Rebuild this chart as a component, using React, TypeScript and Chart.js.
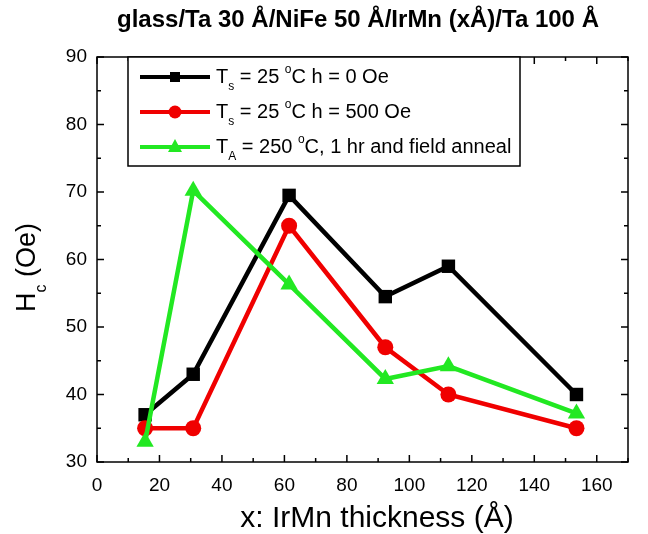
import React, { useEffect, useRef } from 'react';
import { Chart, registerables } from 'chart.js';

Chart.register(...registerables);

// ---- data (x positions) ----
const thickness = [15.4, 30.8, 61.5, 92.3, 112.5, 153.5];
const hcDeposited0Oe = [37, 43, 69.5, 54.5, 59, 40];
const hcDeposited500Oe = [35, 35, 65, 47, 40, 35];
const hcAnnealed = [33, 70.2, 56.3, 42.3, 44.2, 37.2];

const xMin = 0;
const xMax = 170;
const xStep = 20;
const yMin = 30;
const yMax = 90;
const yStep = 10;

const chartTitle = 'glass/Ta 30 Å/NiFe 50 Å/IrMn (xÅ)/Ta 100 Å';
const xAxisTitle = 'x: IrMn thickness (Å)';

type Seg = { t: string; sub?: boolean; sup?: boolean };
const legendTexts: Seg[][] = [
  [{ t: 'T' }, { t: 's', sub: true }, { t: ' = 25 ' }, { t: 'o', sup: true }, { t: 'C h = 0 Oe' }],
  [{ t: 'T' }, { t: 's', sub: true }, { t: ' = 25 ' }, { t: 'o', sup: true }, { t: 'C h = 500 Oe' }],
  [{ t: 'T' }, { t: 'A', sub: true }, { t: ' = 250 ' }, { t: 'o', sup: true }, { t: 'C, 1 hr and field anneal' }],
];
const yAxisTitle: Seg[] = [{ t: 'H' }, { t: 'c', sub: true }, { t: ' (Oe)' }];

const seriesColors = ['#000000', '#f00000', '#22e822'];
const seriesMarkers = ['rect', 'circle', 'triangle'];

const FONT = '"Liberation Sans", Arial, Helvetica, sans-serif';

function drawRich(ctx: CanvasRenderingContext2D, segs: Seg[], x: number, y: number, size: number) {
  let cx = x;
  for (const s of segs) {
    const fs = s.sub || s.sup ? Math.round(size * 0.6) : size;
    ctx.font = `${fs}px ${FONT}`;
    const dy = s.sub ? size * 0.5 : s.sup ? -size * 0.38 : 0;
    ctx.fillText(s.t, cx, y + dy);
    cx += ctx.measureText(s.t).width;
  }
  return cx - x;
}

function richWidth(ctx: CanvasRenderingContext2D, segs: Seg[], size: number) {
  let w = 0;
  for (const s of segs) {
    const fs = s.sub || s.sup ? Math.round(size * 0.6) : size;
    ctx.font = `${fs}px ${FONT}`;
    w += ctx.measureText(s.t).width;
  }
  return w;
}

function drawMarker(ctx: CanvasRenderingContext2D, kind: string, cx: number, cy: number) {
  ctx.beginPath();
  if (kind === 'rect') {
    ctx.rect(cx - 5, cy - 5, 10, 10);
  } else if (kind === 'circle') {
    ctx.arc(cx, cy, 6.5, 0, Math.PI * 2);
  } else {
    ctx.moveTo(cx, cy - 8);
    ctx.lineTo(cx + 7, cy + 5);
    ctx.lineTo(cx - 7, cy + 5);
    ctx.closePath();
  }
  ctx.fill();
}

const decorPlugin = {
  id: 'decor',
  afterDraw(chart: any) {
    const { ctx, chartArea: a, scales } = chart;
    const xs = scales.x;
    const ys = scales.y;
    ctx.save();
    ctx.strokeStyle = '#000';
    ctx.fillStyle = '#000';
    ctx.lineWidth = 1.5;
    // frame
    ctx.strokeRect(a.left, a.top, a.right - a.left, a.bottom - a.top);
    // inward ticks
    ctx.beginPath();
    for (let v = xMin; v <= xMax; v += xStep / 2) {
      const p = xs.getPixelForValue(v);
      const len = v % xStep === 0 ? 7 : 4;
      ctx.moveTo(p, a.bottom);
      ctx.lineTo(p, a.bottom - len);
      ctx.moveTo(p, a.top);
      ctx.lineTo(p, a.top + len);
    }
    for (let v = yMin; v <= yMax; v += yStep / 2) {
      const p = ys.getPixelForValue(v);
      const len = v % yStep === 0 ? 7 : 4;
      ctx.moveTo(a.left, p);
      ctx.lineTo(a.left + len, p);
      ctx.moveTo(a.right, p);
      ctx.lineTo(a.right - len, p);
    }
    ctx.stroke();

    // title
    ctx.textBaseline = 'middle';
    ctx.textAlign = 'center';
    ctx.font = `bold 24px ${FONT}`;
    ctx.fillText(chartTitle, 358, 20);

    // x axis title
    ctx.font = `30px ${FONT}`;
    ctx.fillText(xAxisTitle, 377, 519);

    // y axis title
    ctx.textAlign = 'left';
    ctx.save();
    ctx.translate(28, (a.top + a.bottom) / 2 + 8);
    ctx.rotate(-Math.PI / 2);
    const w = richWidth(ctx, yAxisTitle, 27);
    drawRich(ctx, yAxisTitle, -w / 2, 0, 27);
    ctx.restore();

    // legend
    const lx0 = 128, ly0 = a.top, lx1 = 520, ly1 = 166;
    ctx.fillStyle = '#fff';
    ctx.fillRect(lx0, ly0, lx1 - lx0, ly1 - ly0);
    ctx.strokeStyle = '#000';
    ctx.lineWidth = 1.5;
    ctx.strokeRect(lx0, ly0, lx1 - lx0, ly1 - ly0);
    const rows = [77, 112, 147];
    legendTexts.forEach((segs, i) => {
      const y = rows[i];
      ctx.strokeStyle = seriesColors[i];
      ctx.fillStyle = seriesColors[i];
      ctx.lineWidth = 4;
      ctx.beginPath();
      ctx.moveTo(140, y);
      ctx.lineTo(210, y);
      ctx.stroke();
      drawMarker(ctx, seriesMarkers[i], 175, y);
      ctx.fillStyle = '#000';
      ctx.textBaseline = 'middle';
      drawRich(ctx, segs, 216, y, 20);
    });
    ctx.restore();
  },
};

export default function App() {
  const ref = useRef<HTMLCanvasElement | null>(null);
  useEffect(() => {
    document.body.style.margin = '0';
    const canvas = ref.current;
    if (!canvas) return;
    const mk = (vals: number[]) => thickness.map((x, i) => ({ x, y: vals[i] }));
    const chart = new Chart(canvas, {
      type: 'line',
      data: {
        datasets: [
          {
            label: 'Ts = 25 °C h = 0 Oe',
            data: mk(hcDeposited0Oe),
            borderColor: seriesColors[0],
            backgroundColor: seriesColors[0],
            pointBackgroundColor: seriesColors[0],
            pointBorderColor: seriesColors[0],
            pointStyle: 'rect',
            pointRadius: 9.5,
            pointBorderWidth: 0,
            borderWidth: 4.5,
            order: 3,
          },
          {
            label: 'Ts = 25 °C h = 500 Oe',
            data: mk(hcDeposited500Oe),
            borderColor: seriesColors[1],
            backgroundColor: seriesColors[1],
            pointBackgroundColor: seriesColors[1],
            pointBorderColor: seriesColors[1],
            pointStyle: 'circle',
            pointRadius: 8,
            pointBorderWidth: 0,
            borderWidth: 4.5,
            order: 2,
          },
          {
            label: 'TA = 250 °C, 1 hr and field anneal',
            data: mk(hcAnnealed),
            borderColor: seriesColors[2],
            backgroundColor: seriesColors[2],
            pointBackgroundColor: seriesColors[2],
            pointBorderColor: seriesColors[2],
            pointStyle: 'triangle',
            pointRadius: 10,
            pointBorderWidth: 0,
            borderWidth: 4.5,
            order: 1,
          },
        ],
      },
      options: {
        responsive: false,
        animation: false,
        layout: { padding: { top: 57, right: 20, left: 0, bottom: 0 } },
        plugins: { legend: { display: false }, tooltip: { enabled: false }, title: { display: false } },
        scales: {
          x: {
            type: 'linear',
            min: xMin,
            max: xMax,
            grid: { display: false },
            border: { display: false },
            ticks: { stepSize: xStep, includeBounds: false, color: '#000', font: { size: 19, family: FONT }, padding: 4 },
            afterFit: (s: any) => { s.height = 72; },
          },
          y: {
            type: 'linear',
            min: yMin,
            max: yMax,
            grid: { display: false },
            border: { display: false },
            ticks: { stepSize: yStep, color: '#000', font: { size: 19, family: FONT }, padding: 2 },
            afterFit: (s: any) => { s.width = 97; },
          },
        },
      },
      plugins: [decorPlugin],
    } as any);
    return () => chart.destroy();
  }, []);
  return (
    <div style={{ width: 648, height: 534, background: '#fff' }}>
      <canvas ref={ref} width={648} height={534} />
    </div>
  );
}
